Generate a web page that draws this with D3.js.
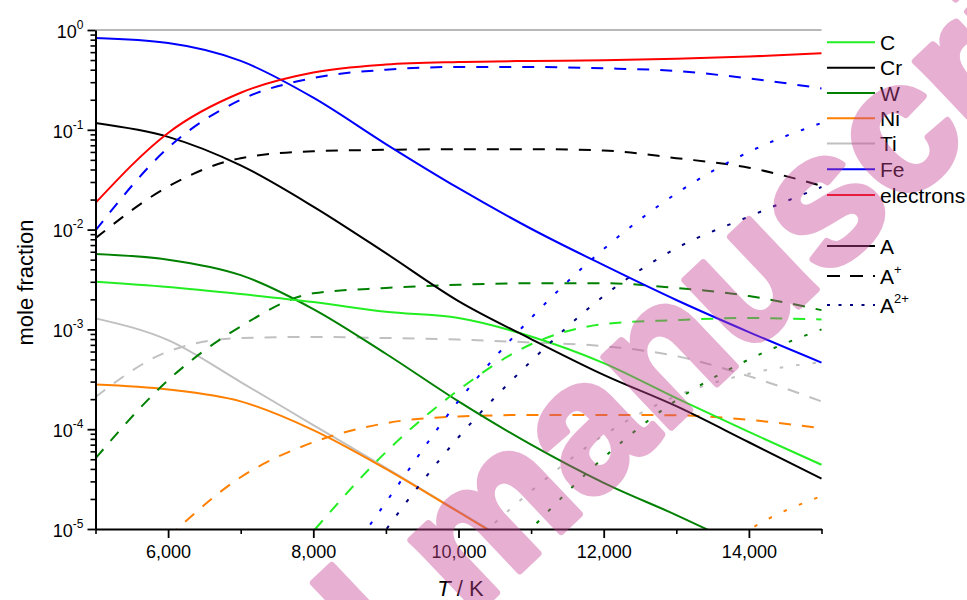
<!DOCTYPE html>
<html>
<head>
<meta charset="utf-8">
<script src="https://cdn.jsdelivr.net/npm/d3@7"></script>
<style>
  body { margin: 0; background: #fff; }
  svg { font-family: "Liberation Sans", Arial, sans-serif; }
</style>
</head>
<body>
<svg id="chart" width="967" height="600"></svg>
<script>
// temperatures (K)
const temps = [5000, 6000, 7000, 8000, 9000, 10000, 11000, 12000, 13000, 14000, 15000];

// neutral atoms (A)
const cAtom  = [3.0e-3, 2.66e-3, 2.26e-3, 1.88e-3, 1.5e-3, 1.3e-3, 8.5e-4, 4.6e-4, 2.05e-4, 9.4e-5, 4.4e-5];
const crAtom = [0.117, 0.085, 0.044, 0.017, 5.8e-3, 1.92e-3, 8.0e-4, 3.5e-4, 1.7e-4, 7.4e-5, 3.2e-5];
const wAtom  = [5.7e-3, 5.0e-3, 3.5e-3, 1.6e-3, 5.7e-4, 1.9e-4, 7.0e-5, 2.9e-5, 1.38e-5, 6.3e-6, 3.0e-6];
const niAtom = [2.8e-4, 2.5e-4, 1.9e-4, 9.8e-5, 4.0e-5, 1.48e-5, 5.4e-6, null, null, null, null];
const tiAtom = [1.29e-3, 7.8e-4, 2.97e-4, 1.1e-4, 4.1e-5, 1.5e-5, 5.5e-6, null, null, null, null];
const feAtom = [0.83, 0.74, 0.49, 0.21, 0.072, 0.026, 0.0102, 4.4e-3, 1.97e-3, 9.4e-4, 4.65e-4];

// singly ionised (A+)
const cIon1  = [null, null, 1.3e-6, 9.5e-6, 5.9e-5, 2.47e-4, 7.1e-4, 1.13e-3, 1.24e-3, 1.3e-3, 1.26e-3];
const crIon1 = [8.2e-3, 0.027, 0.052, 0.061, 0.063, 0.064, 0.064, 0.062, 0.052, 0.0417, 0.0275];
const wIon1  = [5.1e-5, 3.1e-4, 1.07e-3, 2.3e-3, 2.6e-3, 2.8e-3, 2.9e-3, 2.9e-3, 2.6e-3, 2.16e-3, 1.56e-3];
const niIon1 = [null, 8.3e-6, 3.3e-5, 7.4e-5, 1.15e-4, 1.34e-4, 1.39e-4, 1.39e-4, 1.38e-4, 1.24e-4, 1.02e-4];
const tiIon1 = [2.1e-4, 6.0e-4, 8.2e-4, 8.4e-4, 8.2e-4, 7.9e-4, 7.4e-4, 6.8e-4, 5.4e-4, 3.4e-4, 1.9e-4];
const feIon1 = [0.0098, 0.066, 0.2, 0.33, 0.40, 0.426, 0.426, 0.413, 0.388, 0.327, 0.26];

// doubly ionised (A2+)
const crIon2 = [null, null, null, 8e-7, 9.8e-6, 8.3e-5, 4.8e-4, 2.16e-3, 6.5e-3, 0.0135, 0.0267];
const wIon2  = [null, null, null, null, null, 1.6e-6, 1.0e-5, 5.2e-5, 1.95e-4, 5.0e-4, 1.0e-3];
const niIon2 = [null, null, null, null, null, null, null, null, 2.6e-6, 9.8e-6, 2.14e-5];
const tiIon2 = [null, null, null, null, null, 5.3e-6, 2.4e-5, 8.7e-5, 2.15e-4, 3.6e-4, 4.7e-4];
const feIon2 = [null, null, null, 1.7e-6, 1.85e-5, 1.92e-4, 1.3e-3, 6.4e-3, 0.023, 0.06, 0.117];

const electrons = [0.0185, 0.093, 0.235, 0.375, 0.45, 0.478, 0.49, 0.497, 0.514, 0.542, 0.584];

// axis ticks
const xMajorTicks = [6000, 8000, 10000, 12000, 14000];
const xMinorTicks = [5000, 7000, 9000, 11000, 13000, 15000];
const decades = [1e-5, 1e-4, 1e-3, 1e-2, 1e-1, 1];

const legendNames = ["C", "Cr", "W", "Ni", "Ti", "Fe", "electrons"];

// styles
const colors = {C: "#22ee22", Cr: "#000000", W: "#008000", Ni: "#ff8000", Ti: "#c0c0c0", Fe: "#0000ff", electrons: "#ff0000"};
const dashes = {A: null, Aplus: "12,11", A2plus: "3.5,13"};

const series = [
  {vals: tiIon1, color: colors.Ti, dash: dashes.Aplus},
  {vals: tiIon2, color: colors.Ti, dash: dashes.A2plus},
  {vals: tiAtom, color: colors.Ti, dash: dashes.A},
  {vals: niIon1, color: colors.Ni, dash: dashes.Aplus},
  {vals: niIon2, color: colors.Ni, dash: dashes.A2plus},
  {vals: niAtom, color: colors.Ni, dash: dashes.A},
  {vals: wIon1, color: colors.W, dash: dashes.Aplus},
  {vals: wIon2, color: colors.W, dash: dashes.A2plus},
  {vals: wAtom, color: colors.W, dash: dashes.A},
  {vals: cIon1, color: colors.C, dash: dashes.Aplus},
  {vals: cAtom, color: colors.C, dash: dashes.A},
  {vals: crIon1, color: colors.Cr, dash: dashes.Aplus},
  {vals: crIon2, color: "#000080", dash: dashes.A2plus},
  {vals: crAtom, color: colors.Cr, dash: dashes.A},
  {vals: feIon1, color: colors.Fe, dash: dashes.Aplus},
  {vals: feIon2, color: colors.Fe, dash: dashes.A2plus},
  {vals: feAtom, color: colors.Fe, dash: dashes.A},
  {vals: electrons, color: colors.electrons, dash: dashes.A}
];

var margin = {top: 30, right: 145.5, bottom: 71, left: 95.5},
    width = 967 - margin.left - margin.right,
    height = 600 - margin.top - margin.bottom;

var svg = d3.select("#chart");
var g = svg.append("g")
           .attr("transform", "translate(" + margin.left + "," + margin.top + ")");

var x = d3.scaleLinear().domain([5000, 15000]).range([0, width]);
var y = d3.scaleLog().domain([1e-5, 1]).range([height, 0]);

g.append("clipPath").attr("id", "plot-clip")
  .append("rect").attr("x", 0).attr("y", 0).attr("width", width + 1).attr("height", height);

// gray line along the top
g.append("line")
  .attr("x1", 0).attr("x2", width).attr("y1", 0).attr("y2", 0)
  .attr("stroke", "#a0a0a0").attr("stroke-width", 1.5);

var line = d3.line()
  .defined(function(d) { return d.v != null; })
  .x(function(d) { return x(d.t); })
  .y(function(d) { return y(d.v); })
  .curve(d3.curveMonotoneX);

var lines = g.append("g").attr("clip-path", "url(#plot-clip)");
series.forEach(function(s) {
  var pts = temps.map(function(t, i) { return {t: t, v: s.vals[i]}; });
  lines.append("path")
    .datum(pts)
    .attr("fill", "none")
    .attr("stroke", s.color)
    .attr("stroke-width", 2)
    .attr("stroke-dasharray", s.dash)
    .attr("d", line);
});

// y axis: minor then major ticks
var minorY = [];
decades.slice(0, -1).forEach(function(d) { for (var k = 2; k <= 9; k++) minorY.push(k * d); });

var yMinor = g.append("g")
  .call(d3.axisLeft(y).tickValues(minorY).tickSize(5).tickFormat(""));
yMinor.select(".domain").remove();
yMinor.selectAll(".tick line").attr("stroke-width", 1.6);

var yAxis = g.append("g")
  .call(d3.axisLeft(y).tickValues(decades).tickSize(8).tickSizeOuter(0).tickPadding(4).tickFormat(""));
yAxis.attr("font-size", 18).attr("font-family", null);
yAxis.select(".domain").attr("stroke-width", 2);
yAxis.selectAll(".tick line").attr("stroke-width", 1.8);
yAxis.selectAll(".tick text").each(function(d) {
  var t = d3.select(this).attr("dy", "0.4em").attr("fill", "#000");
  t.append("tspan").text("10");
  t.append("tspan").attr("dy", -9).attr("font-size", 12).text(Math.round(Math.log10(d)));
});

// x axis
var xMinor = g.append("g")
  .attr("transform", "translate(0," + height + ")")
  .call(d3.axisBottom(x).tickValues(xMinorTicks).tickSize(5).tickFormat(""));
xMinor.select(".domain").remove();
xMinor.selectAll(".tick line").attr("stroke-width", 1.6);

var xAxis = g.append("g")
  .attr("transform", "translate(0," + height + ")")
  .call(d3.axisBottom(x).tickValues(xMajorTicks).tickSize(9).tickSizeOuter(0).tickPadding(7).tickFormat(d3.format(",")));
xAxis.attr("font-size", 18).attr("font-family", null);
xAxis.select(".domain").attr("stroke-width", 2);
xAxis.selectAll(".tick line").attr("stroke-width", 1.8);
xAxis.selectAll(".tick text").attr("fill", "#000");

// axis titles
svg.append("text")
  .attr("transform", "translate(33," + (margin.top + height / 2 + 3) + ") rotate(-90)")
  .attr("text-anchor", "middle")
  .attr("font-size", 22)
  .text("mole fraction");

var xt = svg.append("text")
  .attr("x", margin.left + width / 2 + 2).attr("y", 596)
  .attr("text-anchor", "middle")
  .attr("font-size", 22);
xt.append("tspan").attr("font-style", "italic").text("T");
xt.append("tspan").text(" / K");

// legend
var leg = svg.append("g").attr("font-size", 21);
var legY = [42.3, 67.7, 93, 118.3, 143.6, 169.3, 195];
legendNames.forEach(function(name, i) {
  leg.append("line")
    .attr("x1", 827).attr("x2", 875).attr("y1", legY[i]).attr("y2", legY[i])
    .attr("stroke", colors[name]).attr("stroke-width", 2);
  leg.append("text").attr("x", 880).attr("y", legY[i] + 7.5).text(name);
});

var ionLegend = [
  {y: 246, dash: null, color: "#000", sup: ""},
  {y: 276, dash: "13,10", color: "#000", sup: "+"},
  {y: 305, dash: "3,8.5", color: "#000080", sup: "2+"}
];
ionLegend.forEach(function(e) {
  leg.append("line")
    .attr("x1", 827).attr("x2", 875).attr("y1", e.y).attr("y2", e.y)
    .attr("stroke", e.color).attr("stroke-width", 2)
    .attr("stroke-dasharray", e.dash);
  var t = leg.append("text").attr("x", 880).attr("y", e.y + 7.5);
  t.append("tspan").text("A");
  if (e.sup) t.append("tspan").attr("dy", -10).attr("font-size", 13).text(e.sup);
});

// watermark (semi-transparent, drawn over everything)
var wm = svg.append("g")
  .attr("transform", "translate(469,619) rotate(-43.5)")
  .attr("font-size", 184).attr("font-weight", "bold")
  .attr("fill", "rgb(200,70,150)").attr("stroke", "rgb(200,70,150)")
  .attr("stroke-width", 7).attr("stroke-linejoin", "round")
  .attr("opacity", 0.42)
  .style("pointer-events", "none");
wm.append("text").attr("x", 0).attr("y", 0).text("manuscript");
wm.append("text").attr("x", -50).attr("y", 0).attr("text-anchor", "end").text("Accepted");
</script>
</body>
</html>
